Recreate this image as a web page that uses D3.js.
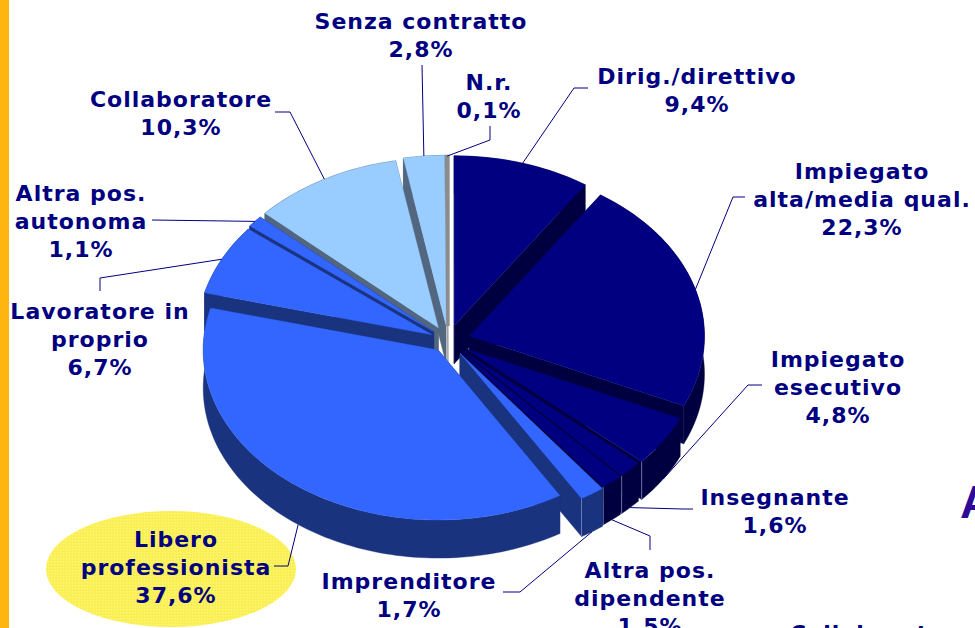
<!DOCTYPE html>
<html><head><meta charset="utf-8">
<script src="https://cdn.jsdelivr.net/npm/d3@7"></script>
<style>html,body{margin:0;padding:0;background:#fff;overflow:hidden}svg{display:block}</style>
</head><body><svg id="c" width="975" height="628"></svg>
<script>
// ---- data ----
const categories = ["Dirig./direttivo","Impiegato alta/media qual.","Impiegato esecutivo","Insegnante","Altra pos. dipendente","Imprenditore","Libero professionista","Lavoratore in proprio","Altra pos. autonoma","Collaboratore","Senza contratto","N.r."];
const values = [9.4,22.3,4.8,1.6,1.5,1.7,37.6,6.7,1.1,10.3,2.8,0.1];
const valueLabels = ["9,4%","22,3%","4,8%","1,6%","1,5%","1,7%","37,6%","6,7%","1,1%","10,3%","2,8%","0,1%"];
const labelLines = [["Dirig./direttivo"],["Impiegato","alta/media qual."],["Impiegato","esecutivo"],["Insegnante"],["Altra pos.","dipendente"],["Imprenditore"],["Libero","professionista"],["Lavoratore in","proprio"],["Altra pos.","autonoma"],["Collaboratore"],["Senza contratto"],["N.r."]];
// ---- style / layout ----
const explode = [.09,.095,.09,.085,.085,.09,.07,.075,.08,.085,.09,.085];
const topColors  = ["#000080","#000080","#000080","#000080","#000080","#3366ff","#3366ff","#3366ff","#3366ff","#99ccff","#99ccff","#c4c4c4"];
const sideColors = ["#000040","#000040","#000040","#000040","#000040","#1a337f","#1a337f","#1a337f","#1a337f","#52667f","#52667f","#8c8c8c"];
const drawOrder = [11,10,9,8,7,0,1,2,3,4,5,6];
const labelPos = [[697,84],[862,179],[838,367],[775,505],[650,578],[409,589],[176,547],[100,319],[81,201],[181,107],[421,29],[489,90]];
const leaderBends = [[[574,88],[588,88]],[[733,197],[745,197]],[[748,385],[762,385]],[[683,509],[693,509]],[[650,536],[650,550]],[[520,592],[503,592]],[[288,566],[274,566]],[[100,278],[100,291]],[[152,220]],[[290,112],[275,112]],[[422,65]],[[490,140],[490,126]]];
const cx = 448, cy = 340.5, rx = 235, ry = 170, depth = 38, lineH = 28;
const navy = "#000080";

const svg = d3.select("#c");
svg.append("rect").attr("width",975).attr("height",628).attr("fill","#fff");
svg.append("rect").attr("width",9).attr("height",628).attr("fill","#ffb50f");
const pat = svg.append("defs").append("pattern").attr("id","dither").attr("width",3).attr("height",3).attr("patternUnits","userSpaceOnUse");
pat.append("rect").attr("width",3).attr("height",3).attr("fill","#faef52");
pat.append("rect").attr("width",1.5).attr("height",1.5).attr("fill","#fff67a");
svg.append("ellipse").attr("cx",171).attr("cy",569).attr("rx",125).attr("ry",58).attr("fill","url(#dither)");

const pie = d3.pie().sort(null).value(d=>d)(values);
const arc = d3.arc().innerRadius(0).outerRadius(rx);
const sy = ry/rx;
const info = pie.map((p,i)=>{
  const mid=(p.startAngle+p.endAngle)/2;
  return {p,i,mid,ax:cx+explode[i]*rx*Math.sin(mid),ay:cy-explode[i]*ry*Math.cos(mid)};
});
const rim=(d,a)=>{const q=d3.pointRadial(a,rx);return [d.ax+q[0],d.ay+q[1]*sy];};
const down=p=>[p[0],p[1]+depth];
const poly=d3.line();
function drawFace(pts,color){
  g.append("path").attr("d",poly(pts)+"Z").attr("fill",color).attr("stroke",color).attr("stroke-width",.4);
}
const g=svg.append("g");
drawOrder.forEach(i=>{
  const d=info[i], {startAngle:s,endAngle:e}=d.p, ap=[d.ax,d.ay];
  const n=Math.max(2,Math.ceil((e-s)*40));
  const pts=d3.range(n+1).map(k=>rim(d,s+(e-s)*k/n));
  // the two cut faces and the outer wall
  drawFace([ap,pts[0],down(pts[0]),down(ap)],sideColors[i]);
  drawFace([ap,pts[n],down(pts[n]),down(ap)],sideColors[i]);
  drawFace([...pts,...pts.map(down).reverse()],sideColors[i]);
  // light hairlines on the visible vertical corners
  if(Math.cos(d.mid)<0.2 && Math.sin(d.mid)>0){
    const a=rim(d,e);
    g.append("line").attr("x1",a[0]).attr("y1",a[1]).attr("x2",a[0]).attr("y2",a[1]+depth)
      .attr("stroke","#8f93c4").attr("stroke-width",.7);
  }
  g.append("path").attr("d",arc(d.p))
   .attr("transform",`translate(${d.ax},${d.ay}) scale(1,${sy})`)
   .attr("fill",topColors[i])
   .attr("stroke",i===11?sideColors[i]:topColors[i])
   .attr("stroke-width",i===11?3.5:.4);
});
// leader lines
const line=d3.line();
info.forEach(d=>{
  const st=rim(d,d.mid); if(Math.cos(d.mid)<0) st[1]+=depth;
  svg.append("path").attr("d",line([st,...leaderBends[d.i]])).attr("fill","none").attr("stroke",navy).attr("stroke-width",1);
});
// labels
const font='"DejaVu Sans",sans-serif';
function label(x,y,t){
  svg.append("text").attr("x",x).attr("y",y).attr("text-anchor","middle")
   .attr("font-family",font).attr("font-weight","bold").attr("font-size",22).attr("letter-spacing",1).attr("fill",navy).text(t);
}
info.forEach(d=>{
  const [x,y]=labelPos[d.i];
  const ls=[...labelLines[d.i],valueLabels[d.i]];
  ls.forEach((t,k)=>label(x,y+k*lineH,t));
});
// clipped neighbours of the slide
svg.append("text").attr("x",960).attr("y",518).attr("font-family",'"Liberation Sans",sans-serif').attr("font-weight","bold").attr("font-size",46).attr("fill","#2e0a96").text("A");
svg.append("text").attr("x",790).attr("y",641).attr("font-family",font).attr("font-weight","bold").attr("font-size",22).attr("letter-spacing",1).attr("fill",navy).text("Collaborat");
</script></body></html>
